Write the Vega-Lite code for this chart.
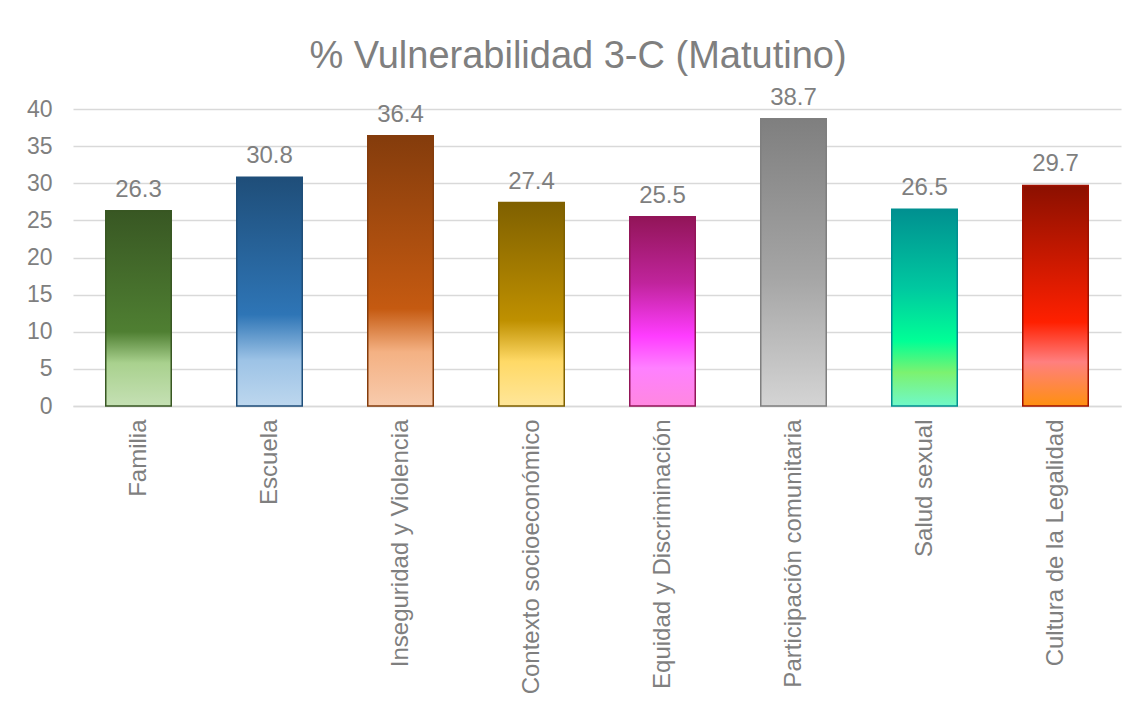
{
  "$schema": "https://vega.github.io/schema/vega-lite/v6.json",
  "autosize": {"type": "none"},
  "padding": {"left": 73, "top": 109, "right": 17, "bottom": 299},
  "width": 1048,
  "height": 297,
  "background": "white",
  "title": {
    "text": "% Vulnerabilidad 3-C (Matutino)",
    "font": "Liberation Sans",
    "fontSize": 38,
    "fontWeight": "normal",
    "color": "#7f7f7f",
    "anchor": "middle",
    "frame": "group",
    "dx": -19,
    "offset": 10
  },
  "data": {
    "values": [
      {"cat": "Familia", "value": 26.3},
      {"cat": "Escuela", "value": 30.8},
      {"cat": "Inseguridad y Violencia", "value": 36.4},
      {"cat": "Contexto socioeconómico", "value": 27.4},
      {"cat": "Equidad y Discriminación", "value": 25.5},
      {"cat": "Participación comunitaria", "value": 38.7},
      {"cat": "Salud sexual", "value": 26.5},
      {"cat": "Cultura de la Legalidad", "value": 29.7}
    ]
  },
  "encoding": {
    "x": {
      "field": "cat",
      "type": "nominal",
      "sort": null,
      "scale": {"paddingInner": 0.5, "paddingOuter": 0.25},
      "axis": {
        "title": null,
        "labelAngle": -90,
        "labelFont": "Liberation Sans",
        "labelFontSize": 24,
        "labelColor": "#7f7f7f",
        "labelPadding": 13,
        "ticks": false,
        "domainColor": "#d9d9d9",
        "domainWidth": 1.5,
        "labelLimit": 400
      }
    },
    "y": {
      "field": "value",
      "type": "quantitative",
      "scale": {"domain": [0, 40], "nice": false},
      "axis": {
        "title": null,
        "values": [0, 5, 10, 15, 20, 25, 30, 35, 40],
        "domain": false,
        "ticks": false,
        "labelFont": "Liberation Sans",
        "labelFontSize": 23,
        "labelColor": "#7f7f7f",
        "labelPadding": 21,
        "gridColor": "#d9d9d9",
        "gridWidth": 1.5
      }
    }
  },
  "layer": [
    {
      "mark": {"type": "bar", "strokeWidth": 1.5},
      "encoding": {
        "fill": {
          "condition": [
            {"test": "datum.cat === 'Familia'", "value": {"gradient": "linear", "x1": 0, "y1": 0, "x2": 0, "y2": 1, "stops": [{"offset": 0, "color": "#385723"}, {"offset": 0.62, "color": "#4f7f32"}, {"offset": 0.78, "color": "#a9d18e"}, {"offset": 1, "color": "#c5e0b4"}]}},
            {"test": "datum.cat === 'Escuela'", "value": {"gradient": "linear", "x1": 0, "y1": 0, "x2": 0, "y2": 1, "stops": [{"offset": 0, "color": "#1f4e79"}, {"offset": 0.6, "color": "#2e75b6"}, {"offset": 0.8, "color": "#9dc3e6"}, {"offset": 1, "color": "#bdd7ee"}]}},
            {"test": "datum.cat === 'Inseguridad y Violencia'", "value": {"gradient": "linear", "x1": 0, "y1": 0, "x2": 0, "y2": 1, "stops": [{"offset": 0, "color": "#843c0c"}, {"offset": 0.64, "color": "#c55a11"}, {"offset": 0.8, "color": "#f4b183"}, {"offset": 1, "color": "#f8cbad"}]}},
            {"test": "datum.cat === 'Contexto socioeconómico'", "value": {"gradient": "linear", "x1": 0, "y1": 0, "x2": 0, "y2": 1, "stops": [{"offset": 0, "color": "#7f6000"}, {"offset": 0.58, "color": "#bf9000"}, {"offset": 0.78, "color": "#ffd966"}, {"offset": 1, "color": "#ffe699"}]}},
            {"test": "datum.cat === 'Equidad y Discriminación'", "value": {"gradient": "linear", "x1": 0, "y1": 0, "x2": 0, "y2": 1, "stops": [{"offset": 0, "color": "#921558"}, {"offset": 0.35, "color": "#c0249c"}, {"offset": 0.63, "color": "#ff3cff"}, {"offset": 0.8, "color": "#ff80ff"}, {"offset": 1, "color": "#ff88e0"}]}},
            {"test": "datum.cat === 'Participación comunitaria'", "value": {"gradient": "linear", "x1": 0, "y1": 0, "x2": 0, "y2": 1, "stops": [{"offset": 0, "color": "#7f7f7f"}, {"offset": 0.55, "color": "#a5a5a5"}, {"offset": 1, "color": "#d4d4d4"}]}},
            {"test": "datum.cat === 'Salud sexual'", "value": {"gradient": "linear", "x1": 0, "y1": 0, "x2": 0, "y2": 1, "stops": [{"offset": 0, "color": "#009090"}, {"offset": 0.4, "color": "#00c8a0"}, {"offset": 0.67, "color": "#00ff96"}, {"offset": 0.83, "color": "#7cf270"}, {"offset": 1, "color": "#70f8c8"}]}},
            {"test": "datum.cat === 'Cultura de la Legalidad'", "value": {"gradient": "linear", "x1": 0, "y1": 0, "x2": 0, "y2": 1, "stops": [{"offset": 0, "color": "#8b1000"}, {"offset": 0.62, "color": "#ff2000"}, {"offset": 0.8, "color": "#ff7f7f"}, {"offset": 1, "color": "#ff9010"}]}}
          ],
          "value": "#999999"
        },
        "stroke": {
          "field": "cat",
          "type": "nominal",
          "sort": null,
          "scale": {
            "domain": ["Familia", "Escuela", "Inseguridad y Violencia", "Contexto socioeconómico", "Equidad y Discriminación", "Participación comunitaria", "Salud sexual", "Cultura de la Legalidad"],
            "range": ["#385723", "#1f4e79", "#843c0c", "#7f6000", "#921558", "#7f7f7f", "#009090", "#a01000"]
          },
          "legend": null
        }
      }
    },
    {
      "mark": {"type": "text", "baseline": "alphabetic", "dy": -14, "font": "Liberation Sans", "fontSize": 24, "color": "#7f7f7f"},
      "encoding": {
        "text": {"field": "value", "type": "quantitative", "format": ".1f"}
      }
    }
  ],
  "config": {
    "view": {"stroke": null}
  }
}
